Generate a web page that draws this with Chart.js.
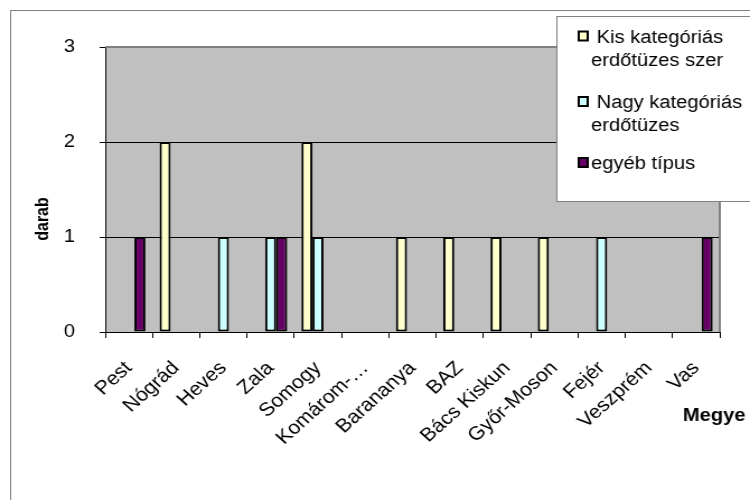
<!DOCTYPE html>
<html>
<head>
<meta charset="utf-8">
<script src="https://cdn.jsdelivr.net/npm/chart.js@4"></script>
<style>
  html, body { margin: 0; padding: 0; background: #fff; overflow: hidden; }
  /* the chart is laid out on a narrower canvas and widened to the page */
  #wrap { width: 670px; height: 500px; transform: scaleX(1.1194); transform-origin: 0 0; }
  canvas { display: block; }
</style>
</head>
<body>
<div id="wrap"><canvas id="chart" width="670" height="500"></canvas></div>
<script>
// Counties (Megye) on the category axis
const categories = ['Pest', 'Nógrád', 'Heves', 'Zala', 'Somogy', 'Komárom-…', 'Barananya',
  'BAZ', 'Bács Kiskun', 'Győr-Moson', 'Fejér', 'Veszprém', 'Vas'];

// Number of fires (darab) per county for each type
const kisValues   = [0, 2, 0, 0, 2, 0, 1, 1, 1, 1, 0, 0, 0];
const nagyValues  = [0, 0, 1, 1, 1, 0, 0, 0, 0, 0, 1, 0, 0];
const egyebValues = [1, 0, 0, 1, 0, 0, 0, 0, 0, 0, 0, 0, 1];

// Legend text (one entry per series, split into lines)
const seriesNames = [
  [' Kis kategóriás', 'erdőtüzes szer'],
  [' Nagy kategóriás', 'erdőtüzes'],
  ['egyéb típus']
];
const seriesColors = ['#FFFFCC', '#CCFFFF', '#660066'];

const yMin = 0, yMax = 3, yStep = 1;
const yTitle = 'darab';
const xTitle = 'Megye';

const FONT = "'Liberation Sans', Arial, sans-serif";

// Zero counts are left empty so no flat bar outline is drawn
const asBars = arr => arr.map(v => (v === 0 ? null : v));

const frame = {
  id: 'frame',
  beforeDraw(chart) {
    const { ctx, chartArea: a } = chart;
    ctx.save();
    ctx.fillStyle = '#ffffff';
    ctx.fillRect(0, 0, chart.width, chart.height);
    ctx.strokeStyle = '#808080';
    ctx.lineWidth = 1;
    ctx.strokeRect(9.5, 10.5, chart.width + 20, chart.height + 20);
    ctx.fillStyle = '#C0C0C0';
    ctx.fillRect(a.left, a.top, a.right - a.left, a.bottom - a.top);
    ctx.restore();
  },
  beforeDatasetsDraw(chart) {
    const { ctx, chartArea: a } = chart;
    ctx.save();
    ctx.strokeStyle = '#808080';
    ctx.lineWidth = 2;
    ctx.beginPath();
    ctx.moveTo(a.left, a.top);
    ctx.lineTo(a.right, a.top);
    ctx.lineTo(a.right, a.bottom);
    ctx.stroke();
    ctx.restore();
  },
  afterDraw(chart) {
    const { ctx } = chart;
    ctx.save();
    ctx.fillStyle = '#000';

    // axis titles
    ctx.font = 'bold 16px ' + FONT;
    ctx.textAlign = 'center';
    ctx.textBaseline = 'middle';
    ctx.save();
    ctx.translate(38.5, 219);
    ctx.rotate(-Math.PI / 2);
    ctx.fillText(yTitle, 0, 0);
    ctx.restore();

    ctx.font = 'bold 18px ' + FONT;
    ctx.textAlign = 'left';
    ctx.textBaseline = 'alphabetic';
    ctx.fillText(xTitle, 610, 421);

    // legend
    const box = { x: 497.5, y: 16.5, w: 190, h: 185 };
    ctx.fillStyle = '#ffffff';
    ctx.fillRect(box.x, box.y, box.w, box.h);
    ctx.strokeStyle = '#808080';
    ctx.lineWidth = 1;
    ctx.strokeRect(box.x, box.y, box.w, box.h);

    const markerCenters = [36, 101.5, 162.5];
    ctx.font = '18px ' + FONT;
    chart.data.datasets.forEach((ds, i) => {
      const cy = markerCenters[i];
      ctx.fillStyle = ds.backgroundColor;
      ctx.fillRect(516, cy - 5.5, 10, 11);
      ctx.strokeStyle = '#000';
      ctx.lineWidth = 2;
      ctx.strokeRect(517, cy - 4.5, 8, 9);
      ctx.fillStyle = '#000';
      seriesNames[i].forEach((line, k) => {
        ctx.fillText(line, 528, cy + 6.5 + k * 23);
      });
    });
    ctx.restore();
  }
};

const datasets = [kisValues, nagyValues, egyebValues].map((vals, i) => ({
  label: seriesNames[i].join(' ').trim(),
  data: asBars(vals),
  backgroundColor: seriesColors[i],
  borderColor: '#000000',
  borderWidth: 2,
  borderSkipped: false,
  categoryPercentage: 0.70,
  barPercentage: 1.0
}));

new Chart(document.getElementById('chart'), {
  type: 'bar',
  data: { labels: categories, datasets },
  plugins: [frame],
  options: {
    responsive: false,
    animation: false,
    devicePixelRatio: 1,
    layout: { padding: { top: 47, right: 27, left: 0, bottom: 0 } },
    plugins: {
      legend: { display: false },
      tooltip: { enabled: false },
      title: { display: false }
    },
    scales: {
      x: {
        afterFit(scale) { scale.height = 168; },
        grid: {
          offset: true,
          drawOnChartArea: false,
          drawTicks: true,
          tickLength: 6,
          tickColor: '#000',
          tickWidth: 1
        },
        border: { display: true, color: '#000', width: 1 },
        ticks: {
          autoSkip: false,
          maxRotation: 45,
          minRotation: 45,
          padding: 19,
          color: '#000',
          font: { family: FONT, size: 19 }
        }
      },
      y: {
        min: yMin,
        max: yMax,
        afterFit(scale) { scale.width = 94; },
        grid: {
          drawTicks: true,
          tickLength: 5,
          tickColor: '#000',
          color: ctx => (ctx.tick && (ctx.tick.value === yMin || ctx.tick.value === yMax)) ? 'rgba(0,0,0,0)' : '#000',
          lineWidth: 1
        },
        border: { display: true, color: '#000', width: 1 },
        ticks: {
          stepSize: yStep,
          padding: 22,
          color: '#000',
          font: { family: FONT, size: 18 }
        }
      }
    }
  }
});
</script>
</body>
</html>
